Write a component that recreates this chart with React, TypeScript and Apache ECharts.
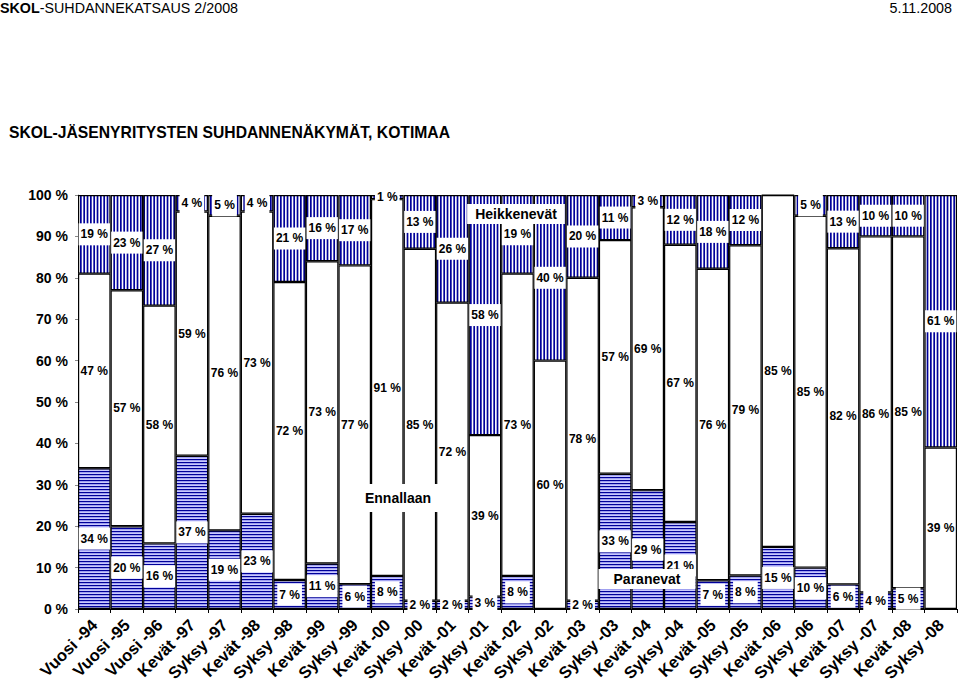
import React, { useEffect, useRef } from "react";
import * as echarts from "echarts";

const categories = [
  "Vuosi -94", "Vuosi -95", "Vuosi -96", "Kevät -97", "Syksy -97", "Kevät -98", "Syksy -98",
  "Kevät -99", "Syksy -99", "Kevät -00", "Syksy -00", "Kevät -01", "Syksy -01", "Kevät -02",
  "Syksy -02", "Kevät -03", "Syksy -03", "Kevät -04", "Syksy -04", "Kevät -05", "Syksy -05",
  "Kevät -06", "Syksy -06", "Kevät -07", "Syksy -07", "Kevät -08", "Syksy -08",
];
const paranevat = [34, 20, 16, 37, 19, 23, 7, 11, 6, 8, 2, 2, 3, 8, 0, 2, 33, 29, 21, 7, 8, 15, 10, 6, 4, 5, 0];
const ennallaan = [47, 57, 58, 59, 76, 73, 72, 73, 77, 91, 85, 72, 39, 73, 60, 78, 57, 69, 67, 76, 79, 85, 85, 82, 86, 85, 39];
const heikkenevat = [19, 23, 27, 4, 5, 4, 21, 16, 17, 1, 13, 26, 58, 19, 40, 20, 11, 3, 12, 18, 12, 0, 5, 13, 10, 10, 61];
const yTicks = [0, 10, 20, 30, 40, 50, 60, 70, 80, 90, 100];

const FONT = "'Liberation Sans', Arial, Helvetica, sans-serif";
const NAVY = "#000099";

function verticalStripes() {
  const c = document.createElement("canvas");
  c.width = 10;
  c.height = 4;
  const ctx = c.getContext("2d")!;
  ctx.fillStyle = "#ffffff";
  ctx.fillRect(0, 0, 10, 4);
  ctx.fillStyle = NAVY;
  for (let k = 0; k < 3; k++) ctx.fillRect(k * (10 / 3), 0, 1.7, 4);
  return c;
}

function horizontalStripes() {
  const c = document.createElement("canvas");
  c.width = 4;
  c.height = 3;
  const ctx = c.getContext("2d")!;
  ctx.fillStyle = NAVY;
  ctx.fillRect(0, 0, 4, 1);
  ctx.fillStyle = "#a0a0f0";
  ctx.fillRect(0, 1, 4, 1);
  ctx.fillStyle = "#cacafc";
  ctx.fillRect(0, 2, 4, 1);
  return c;
}

export default function App() {
  const ref = useRef<HTMLDivElement>(null);
  useEffect(() => {
    if (!ref.current) return;
    const chart = echarts.init(ref.current, undefined, { renderer: "svg" });
    const totals = categories.map((_, i) => paranevat[i] + ennallaan[i] + heikkenevat[i]);
    const vImg = verticalStripes();
    const hImg = horizontalStripes();

    const mk = (name: string, vals: number[], color: any, bg: string | undefined) => ({
      name,
      type: "bar",
      stack: "total",
      barCategoryGap: "0%",
      barGap: "0%",
      data: vals.map((v, i) => ({
        value: (v / totals[i]) * 100,
        label: v === 0 ? { show: false } : undefined,
      })),
      itemStyle: { color, borderColor: "#000", borderWidth: 1.2 },
      label: {
        show: true,
        position: "inside",
        formatter: (p: any) => `${vals[p.dataIndex]} %`,
        fontFamily: FONT,
        fontSize: 12,
        fontWeight: "bold",
        color: "#000",
        backgroundColor: bg,
        padding: bg ? [5, 2] : 0,
      },
    });

    chart.setOption({
      animation: false,
      textStyle: { fontFamily: FONT },
      grid: { left: 78, right: 3, top: 195, bottom: 72, containLabel: false, outerBoundsMode: "none" },
      xAxis: {
        type: "category",
        data: categories,
        axisLine: { show: true, lineStyle: { color: "#000", width: 1 } },
        axisTick: { show: true, length: 4, lineStyle: { color: "#000" } },
        axisLabel: {
          rotate: 45,
          interval: 0,
          fontFamily: FONT,
          fontSize: 16.5,
          fontWeight: "bold",
          color: "#000",
          margin: 13,
        },
      },
      yAxis: {
        type: "value",
        min: yTicks[0],
        max: yTicks[yTicks.length - 1],
        interval: 10,
        axisLine: { show: true, lineStyle: { color: "#888" } },
        axisTick: { show: true, length: 3, lineStyle: { color: "#888" } },
        splitLine: { show: false },
        axisLabel: {
          formatter: "{value} %",
          fontFamily: FONT,
          fontSize: 14,
          fontWeight: "bold",
          color: "#000",
          margin: 10,
        },
      },
      series: [
        mk("Paranevat", paranevat, { image: hImg, repeat: "repeat", imageWidth: 4, imageHeight: 3 }, "#fff"),
        mk("Ennallaan", ennallaan, "#fff", undefined),
        mk("Heikkenevät", heikkenevat, { image: vImg, repeat: "repeat", imageWidth: 10, imageHeight: 4 }, "#fff"),
      ],
      graphic: [
        {
          type: "text",
          x: 0,
          y: 1,
          style: {
            text: "{b|SKOL}-SUHDANNEKATSAUS 2/2008",
            rich: { b: { fontWeight: "bold", fontSize: 14.3, fontFamily: FONT, fill: "#000" } },
            fontSize: 14.3,
            fontFamily: FONT,
            fill: "#000",
          },
        },
        {
          type: "text",
          x: 952,
          y: 1,
          style: { text: "5.11.2008", textAlign: "right", fontSize: 14.3, fontFamily: FONT, fill: "#000" },
        },
        {
          type: "text",
          x: 9,
          y: 132,
          style: {
            text: "SKOL-JÄSENYRITYSTEN SUHDANNENÄKYMÄT, KOTIMAA",
            textVerticalAlign: "middle",
            fontSize: 15.7,
            fontWeight: "bold",
            fontFamily: FONT,
            fill: "#000",
          },
        },
        {
          type: "text",
          x: 516,
          y: 214,
          z: 100,
          style: {
            text: "Heikkenevät",
            textAlign: "center",
            textVerticalAlign: "middle",
            fontSize: 14,
            fontWeight: "bold",
            fontFamily: FONT,
            fill: "#000",
            backgroundColor: "#fff",
            padding: [3, 8],
          },
        },
        {
          type: "text",
          x: 398,
          y: 498,
          z: 100,
          style: {
            text: "Ennallaan",
            textAlign: "center",
            textVerticalAlign: "middle",
            fontSize: 14,
            fontWeight: "bold",
            fontFamily: FONT,
            fill: "#000",
            backgroundColor: "#fff",
            padding: [7, 8],
          },
        },
        {
          type: "text",
          x: 647,
          y: 579,
          z: 100,
          style: {
            text: "Paranevat",
            textAlign: "center",
            textVerticalAlign: "middle",
            fontSize: 14,
            fontWeight: "bold",
            fontFamily: FONT,
            fill: "#000",
            backgroundColor: "#fff",
            padding: [3, 15],
          },
        },
      ],
    });
    return () => chart.dispose();
  }, []);
  return (
    <div
      ref={ref}
      style={{ position: "absolute", left: 0, top: 0, width: 960, height: 681, background: "#fff" }}
    />
  );
}
